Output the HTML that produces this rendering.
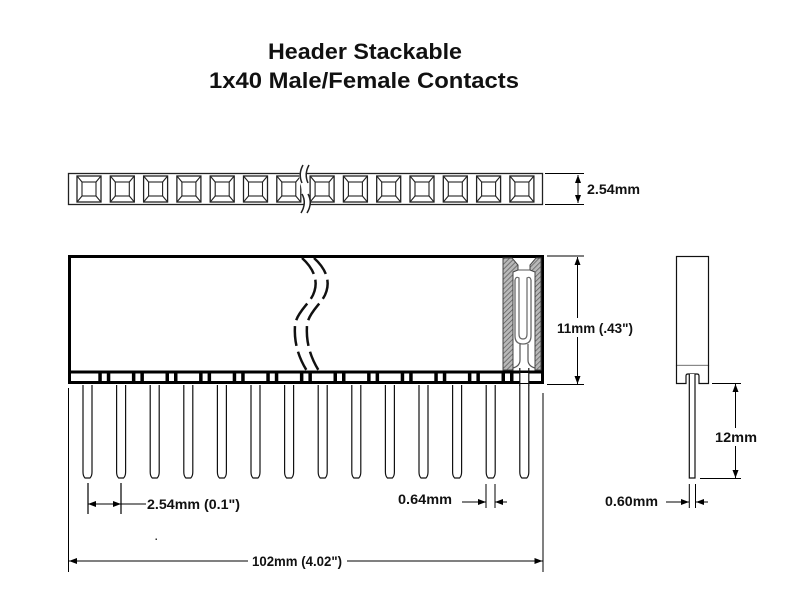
<!DOCTYPE html>
<html>
<head>
<meta charset="utf-8">
<style>
  html,body{margin:0;padding:0;background:#fff;}
  svg{display:block;}
  text{font-family:"Liberation Sans",Arial,sans-serif;font-weight:bold;fill:#111;}
</style>
</head>
<body>
<svg width="800" height="600" viewBox="0 0 800 600" xmlns="http://www.w3.org/2000/svg">
  <defs>
    <marker id="ar" markerUnits="userSpaceOnUse" markerWidth="8" markerHeight="6" refX="8" refY="3" orient="auto-start-reverse">
      <path d="M0,0 L8,3 L0,6 z" fill="#000"/>
    </marker>
    <pattern id="hatch" width="3.5" height="3.5" patternUnits="userSpaceOnUse" patternTransform="rotate(45)">
      <rect width="3.5" height="3.5" fill="#b8b8b8"/>
      <line x1="0" y1="0" x2="0" y2="3.5" stroke="#555" stroke-width="1.4"/>
    </pattern>
    <g id="sq">
      <rect x="0" y="0" width="24" height="26" fill="#fff" stroke="#222" stroke-width="1.3"/>
      <rect x="5" y="6" width="14" height="14" fill="none" stroke="#222" stroke-width="1.1"/>
      <path d="M0,0 L5,6 M24,0 L19,6 M0,26 L5,20 M24,26 L19,20" stroke="#222" stroke-width="1.1"/>
    </g>
    <g id="pin">
      <path d="M-4.5,385 V472 Q-4.5,476 -2.5,478 H2.5 Q4.5,476 4.5,472 V385" fill="#fff" stroke="#111" stroke-width="1.2"/>
    </g>
    <g id="col">
      <rect x="-6" y="373" width="3.5" height="10" fill="#000"/>
      <rect x="2.5" y="373" width="3.5" height="10" fill="#000"/>
    </g>
  </defs>

  <!-- Title -->
  <text x="268" y="59" font-size="22" textLength="194" lengthAdjust="spacingAndGlyphs">Header Stackable</text>
  <text x="209" y="88" font-size="22" textLength="310" lengthAdjust="spacingAndGlyphs">1x40 Male/Female Contacts</text>

  <!-- Top strip view -->
  <rect x="68.5" y="173.5" width="474" height="31" fill="#fff" stroke="#222" stroke-width="1.3"/>
  <use href="#sq" x="77" y="176"/>
  <use href="#sq" x="110.3" y="176"/>
  <use href="#sq" x="143.6" y="176"/>
  <use href="#sq" x="176.9" y="176"/>
  <use href="#sq" x="210.2" y="176"/>
  <use href="#sq" x="243.5" y="176"/>
  <use href="#sq" x="276.8" y="176"/>
  <use href="#sq" x="310.1" y="176"/>
  <use href="#sq" x="343.4" y="176"/>
  <use href="#sq" x="376.7" y="176"/>
  <use href="#sq" x="410" y="176"/>
  <use href="#sq" x="443.3" y="176"/>
  <use href="#sq" x="476.6" y="176"/>
  <use href="#sq" x="509.9" y="176"/>
  <!-- break in strip -->
  <path d="M302,165 Q297,176 301,186 L302,193 Q307,203 302,213 L308,213 Q313,203 308,193 L307,186 Q303,176 308,165 Z" fill="#fff" stroke="none"/>
  <path d="M303,165 Q298,174 302,183" fill="none" stroke="#222" stroke-width="1.5"/>
  <path d="M309,165 Q304,174 308,183" fill="none" stroke="#222" stroke-width="1.5"/>
  <path d="M302,194 Q307,203 301,213" fill="none" stroke="#222" stroke-width="1.5"/>
  <path d="M308,194 Q313,203 307,213" fill="none" stroke="#222" stroke-width="1.5"/>

  <!-- 2.54mm top dimension -->
  <line x1="545" y1="173.5" x2="584" y2="173.5" stroke="#000" stroke-width="1"/>
  <line x1="545" y1="204.5" x2="584" y2="204.5" stroke="#000" stroke-width="1"/>
  <line x1="578" y1="175" x2="578" y2="203" stroke="#000" stroke-width="1" marker-start="url(#ar)" marker-end="url(#ar)"/>
  <text x="587" y="194" font-size="14" textLength="53" lengthAdjust="spacingAndGlyphs">2.54mm</text>

  <!-- Main body -->
  <rect x="69.5" y="256.5" width="473" height="126" fill="#fff" stroke="#000" stroke-width="3"/>
  <line x1="69" y1="372" x2="543" y2="372" stroke="#000" stroke-width="3"/>

  <!-- hatched contact section -->
  <path d="M503,258 H512 L518,265 L518,270 L513,272 V370 H503 Z" fill="url(#hatch)" stroke="#444" stroke-width="1"/>
  <path d="M536,258 H541 V370 H535 V272 L530,270 L530,265 Z" fill="url(#hatch)" stroke="#444" stroke-width="1"/>
  <line x1="518" y1="270" x2="530" y2="270" stroke="#555" stroke-width="1"/>
  <!-- spring -->
  <path d="M515,280 L515,336 Q515,344 523,344 Q531,344 531,336 L531,280" fill="none" stroke="#666" stroke-width="1.3"/>
  <path d="M515,280 Q516,276 519,278 L519,334 Q519,339 523,339 Q527,339 527,334 L527,278 Q530,276 531,280" fill="none" stroke="#666" stroke-width="1.2"/>
  <path d="M520,344 L520,360 Q520,366 513,368" fill="none" stroke="#555" stroke-width="1.2"/>
  <path d="M528,344 L528,360 Q528,366 535,368" fill="none" stroke="#555" stroke-width="1.2"/>
  <rect x="519.8" y="373" width="9" height="10" fill="#fff"/>
  <line x1="519.8" y1="368" x2="519.8" y2="386" stroke="#111" stroke-width="1.2"/>
  <line x1="528.8" y1="368" x2="528.8" y2="386" stroke="#111" stroke-width="1.2"/>

  <!-- collars -->
  <use href="#col" x="104.3"/>
  <use href="#col" x="137.9"/>
  <use href="#col" x="171.5"/>
  <use href="#col" x="205.1"/>
  <use href="#col" x="238.7"/>
  <use href="#col" x="272.3"/>
  <use href="#col" x="305.9"/>
  <use href="#col" x="339.5"/>
  <use href="#col" x="373.1"/>
  <use href="#col" x="406.7"/>
  <use href="#col" x="440.3"/>
  <use href="#col" x="473.9"/>
  <use href="#col" x="507.5"/>

  <!-- break in body -->
  <path d="M302,258 C312,267 320,280 313,295 C308,305 297,312 295,325 C294,340 297,355 307,371" fill="none" stroke="#111" stroke-width="2.5" stroke-dasharray="20,6"/>
  <path d="M314,258 C324,267 332,280 325,295 C320,305 309,312 307,325 C306,340 309,355 319,371" fill="none" stroke="#111" stroke-width="2.5" stroke-dasharray="20,6"/>

  <!-- pins -->
  <use href="#pin" x="87.5"/>
  <use href="#pin" x="121.1"/>
  <use href="#pin" x="154.7"/>
  <use href="#pin" x="188.3"/>
  <use href="#pin" x="221.9"/>
  <use href="#pin" x="255.5"/>
  <use href="#pin" x="289.1"/>
  <use href="#pin" x="322.7"/>
  <use href="#pin" x="356.3"/>
  <use href="#pin" x="389.9"/>
  <use href="#pin" x="423.5"/>
  <use href="#pin" x="457.1"/>
  <use href="#pin" x="490.7"/>
  <use href="#pin" x="524.3"/>

  <!-- 11mm dimension -->
  <line x1="547" y1="256" x2="584" y2="256" stroke="#000" stroke-width="1"/>
  <line x1="547" y1="384.5" x2="584" y2="384.5" stroke="#000" stroke-width="1"/>
  <line x1="577.5" y1="257" x2="577.5" y2="384" stroke="#000" stroke-width="1" marker-start="url(#ar)" marker-end="url(#ar)"/>
  <rect x="555" y="318" width="80" height="19" fill="#fff"/>
  <text x="557" y="333" font-size="14" textLength="76" lengthAdjust="spacingAndGlyphs">11mm (.43")</text>

  <!-- Side view -->
  <rect x="676.5" y="256.5" width="32" height="109" fill="#fff" stroke="#111" stroke-width="1.2"/>
  <path d="M676.5,365.5 V383.5 H686 V376 Q686,374 688,374 H697 Q699,374 699,376 V383.5 H708.5 V365.5" fill="#fff" stroke="#111" stroke-width="1.2"/>
  <path d="M689.3,374 V478 H695 V374" fill="#fff" stroke="#111" stroke-width="1.2"/>

  <!-- 12mm dimension -->
  <line x1="712" y1="383.5" x2="741" y2="383.5" stroke="#000" stroke-width="1"/>
  <line x1="700" y1="478.5" x2="741" y2="478.5" stroke="#000" stroke-width="1"/>
  <line x1="735.5" y1="384" x2="735.5" y2="478" stroke="#000" stroke-width="1" marker-start="url(#ar)" marker-end="url(#ar)"/>
  <rect x="713" y="428" width="46" height="18" fill="#fff"/>
  <text x="715" y="442" font-size="14" textLength="42" lengthAdjust="spacingAndGlyphs">12mm</text>

  <!-- 0.60mm -->
  <line x1="689.3" y1="484" x2="689.3" y2="508" stroke="#000" stroke-width="1"/>
  <line x1="695.5" y1="484" x2="695.5" y2="508" stroke="#000" stroke-width="1"/>
  <line x1="666" y1="502" x2="689" y2="502" stroke="#000" stroke-width="1" marker-end="url(#ar)"/>
  <line x1="708" y1="502" x2="696" y2="502" stroke="#000" stroke-width="1" marker-end="url(#ar)"/>
  <text x="605" y="506" font-size="14" textLength="53" lengthAdjust="spacingAndGlyphs">0.60mm</text>

  <!-- 0.64mm -->
  <line x1="486" y1="484" x2="486" y2="508" stroke="#000" stroke-width="1"/>
  <line x1="495" y1="484" x2="495" y2="508" stroke="#000" stroke-width="1"/>
  <line x1="462" y1="502" x2="486" y2="502" stroke="#000" stroke-width="1" marker-end="url(#ar)"/>
  <line x1="507" y1="502" x2="495" y2="502" stroke="#000" stroke-width="1" marker-end="url(#ar)"/>
  <text x="398" y="504" font-size="14" textLength="54" lengthAdjust="spacingAndGlyphs">0.64mm</text>

  <!-- 2.54mm (0.1") -->
  <line x1="88" y1="483" x2="88" y2="514" stroke="#000" stroke-width="1.2"/>
  <line x1="121" y1="483" x2="121" y2="514" stroke="#000" stroke-width="1.2"/>
  <line x1="88" y1="504" x2="121" y2="504" stroke="#000" stroke-width="1" marker-start="url(#ar)" marker-end="url(#ar)"/>
  <line x1="121" y1="504" x2="146" y2="504" stroke="#000" stroke-width="1"/>
  <text x="147" y="509" font-size="14" textLength="93" lengthAdjust="spacingAndGlyphs">2.54mm (0.1")</text>

  <!-- 102mm -->
  <line x1="68.5" y1="388" x2="68.5" y2="572" stroke="#000" stroke-width="1"/>
  <line x1="543" y1="393" x2="543" y2="572" stroke="#000" stroke-width="1"/>
  <line x1="69" y1="561" x2="248" y2="561" stroke="#000" stroke-width="1" marker-start="url(#ar)"/>
  <line x1="347" y1="561" x2="542.5" y2="561" stroke="#000" stroke-width="1" marker-end="url(#ar)"/>
  <text x="252" y="566" font-size="14" textLength="90" lengthAdjust="spacingAndGlyphs">102mm (4.02")</text>

  <!-- stray dot -->
  <rect x="155.5" y="538.5" width="1.5" height="1.5" fill="#333"/>
</svg>
</body>
</html>
